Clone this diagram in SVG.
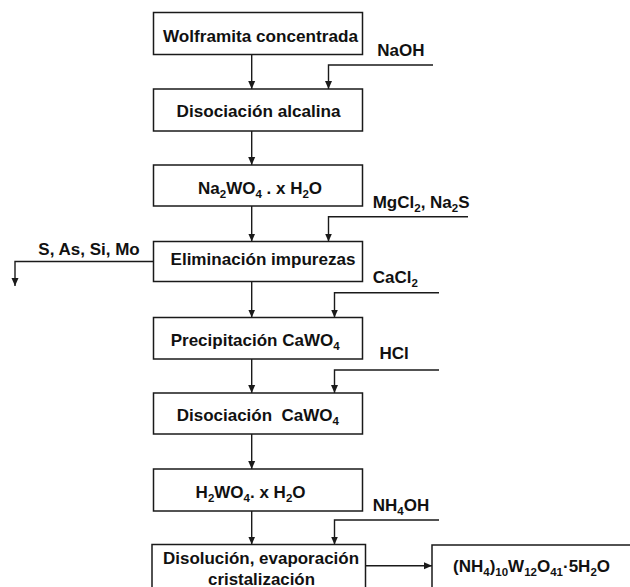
<svg xmlns="http://www.w3.org/2000/svg" width="630" height="587" viewBox="0 0 630 587">
<defs>
<marker id="ah" markerUnits="userSpaceOnUse" markerWidth="8" markerHeight="10" refX="8" refY="4" orient="auto" viewBox="0 0 8 8">
<path d="M0,0.5 L8,4 L0,7.5 Z" fill="#1a1a1a"/>
</marker>
<style>
.box{fill:#fff;stroke:#1a1a1a;stroke-width:1.5}
.t{font-family:"Liberation Sans",Arial,sans-serif;font-weight:bold;font-size:17px;fill:#111}
.c{text-anchor:middle}
.s{font-size:11.5px}
.ln{fill:none;stroke:#1a1a1a;stroke-width:1.4}
.ar{marker-end:url(#ah)}
</style>
</defs>
<rect width="630" height="587" fill="#fff"/>

<g id="n1"><rect class="box" x="153.5" y="12.5" width="209" height="42"/>
<text class="t c" x="260.5" y="42" textLength="195" lengthAdjust="spacingAndGlyphs">Wolframita concentrada</text></g>

<g id="n2"><rect class="box" x="153.5" y="89" width="209" height="42"/>
<text class="t c" x="258.6" y="117" textLength="164" lengthAdjust="spacingAndGlyphs">Disociación alcalina</text></g>

<g id="n3"><rect class="box" x="153.5" y="165" width="209" height="41"/>
<text class="t" x="198" y="194">Na<tspan class="s" dy="4">2</tspan><tspan dy="-4">WO</tspan><tspan class="s" dy="4">4</tspan><tspan dy="-4"> . x H</tspan><tspan class="s" dy="4">2</tspan><tspan dy="-4">O</tspan></text></g>

<g id="n4"><rect class="box" x="153.5" y="241.5" width="209" height="40"/>
<text class="t c" x="263" y="265" textLength="185" lengthAdjust="spacingAndGlyphs">Eliminación impurezas</text></g>

<g id="n5"><rect class="box" x="153.5" y="317.5" width="209" height="41.5"/>
<text class="t" x="170.7" y="346">Precipitación CaWO<tspan class="s" dy="4">4</tspan></text></g>

<g id="n6"><rect class="box" x="153.5" y="393" width="209" height="41"/>
<text class="t" x="176.7" y="421" xml:space="preserve">Disociación  CaWO<tspan class="s" dy="4">4</tspan></text></g>

<g id="n7"><rect class="box" x="153.5" y="469" width="209" height="42"/>
<text class="t" x="195.6" y="498">H<tspan class="s" dy="4">2</tspan><tspan dy="-4">WO</tspan><tspan class="s" dy="4">4</tspan><tspan dy="-4">. x H</tspan><tspan class="s" dy="4">2</tspan><tspan dy="-4">O</tspan></text></g>

<g id="n8"><rect class="box" x="152" y="544.5" width="213.5" height="60"/>
<text class="t c" x="261" y="564" textLength="196" lengthAdjust="spacingAndGlyphs">Disolución, evaporación</text>
<text class="t c" x="261.5" y="584.5" textLength="107" lengthAdjust="spacingAndGlyphs">cristalización</text></g>

<g id="n9"><rect class="box" x="432" y="545" width="220" height="60"/>
<text class="t" x="453" y="572">(NH<tspan class="s" dy="4">4</tspan><tspan dy="-4">)</tspan><tspan class="s" dy="4">10</tspan><tspan dy="-4">W</tspan><tspan class="s" dy="4">12</tspan><tspan dy="-4">O</tspan><tspan class="s" dy="4">41</tspan><tspan dy="-4">·5H</tspan><tspan class="s" dy="4">2</tspan><tspan dy="-4">O</tspan></text></g>

<g id="labels">
<text class="t" x="377.3" y="56">NaOH</text>
<text class="t" x="372.7" y="207.5">MgCl<tspan class="s" dy="4">2</tspan><tspan dy="-4">, Na</tspan><tspan class="s" dy="4">2</tspan><tspan dy="-4">S</tspan></text>
<text class="t" x="38.3" y="255">S, As, Si, Mo</text>
<text class="t" x="372.7" y="283">CaCl<tspan class="s" dy="4">2</tspan></text>
<text class="t" x="379.5" y="359">HCl</text>
<text class="t" x="372.7" y="511">NH<tspan class="s" dy="4">4</tspan><tspan dy="-4">OH</tspan></text>
</g>

<g id="connectors">
<line class="ln ar" x1="251.7" y1="54.5" x2="251.7" y2="89"/>
<line class="ln ar" x1="251.7" y1="131" x2="251.7" y2="165"/>
<line class="ln ar" x1="251.7" y1="206" x2="251.7" y2="241.5"/>
<line class="ln ar" x1="251.7" y1="281.5" x2="251.7" y2="317.5"/>
<line class="ln ar" x1="251.7" y1="359" x2="251.7" y2="393"/>
<line class="ln ar" x1="251.7" y1="434" x2="251.7" y2="469"/>
<line class="ln ar" x1="251.7" y1="511" x2="251.7" y2="544.5"/>
<polyline class="ln ar" points="433,65 328.5,65 328.5,89"/>
<polyline class="ln ar" points="468,216.7 328.5,216.7 328.5,241.5"/>
<polyline class="ln ar" points="439,292.7 334.5,292.7 334.5,317.5"/>
<polyline class="ln ar" points="439,370 334.5,370 334.5,393"/>
<polyline class="ln ar" points="439,520 334.5,520 334.5,544.5"/>
<polyline class="ln ar" points="153.5,261.5 15,261.5 15,286"/>
<line class="ln ar" x1="365.5" y1="565.7" x2="432" y2="565.7"/>
</g>
</svg>
